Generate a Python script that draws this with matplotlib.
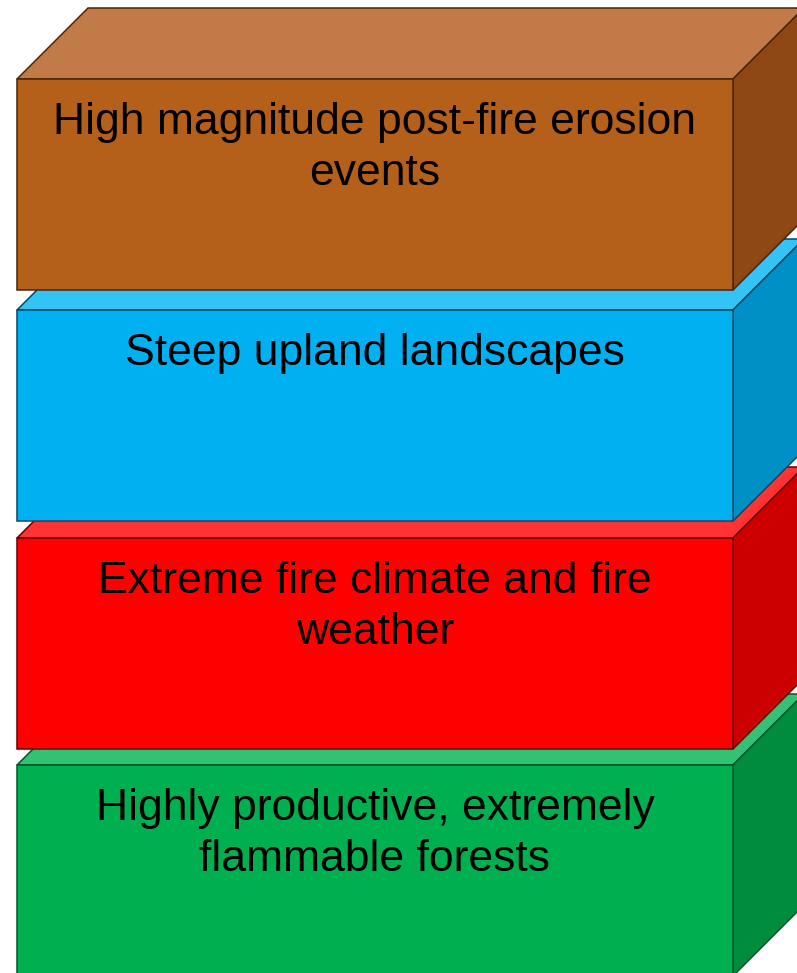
import matplotlib
matplotlib.use("Agg")
import matplotlib.pyplot as plt
from matplotlib.patches import Polygon
import numpy as np

# layers, bottom of the picture last
labels = ["High magnitude post-fire erosion\nevents",
          "Steep upland landscapes",
          "Extreme fire climate and fire\nweather",
          "Highly productive, extremely\nflammable forests"]
front_colors = ["#B45F1A", "#00B0F0", "#FF0000", "#00B050"]
top_colors = ["#C27B48", "#33C3F5", "#FF3333", "#33C173"]
side_colors = ["#8E4815", "#0090C5", "#CC0000", "#008C3E"]
edge_colors = ["#4A2508", "#004A66", "#660000", "#00552A"]

# layout in pixels
W, H = 797, 973
left, right = 17, 733
tops = [79, 310, 538, 765]
box_h = 211
depth = 71

fig = plt.figure(figsize=(W / 100, H / 100), dpi=100)
ax = fig.add_axes([0, 0, 1, 1])
ax.set_xlim(0, W)
ax.set_ylim(H, 0)
ax.axis("off")

# draw from the bottom box up so upper boxes hide the top faces below
for i in reversed(range(len(labels))):
    t = tops[i]
    b = t + box_h
    ec = edge_colors[i]
    top_face = [(left, t), (right, t), (right + depth, t - depth), (left + depth, t - depth)]
    side_face = [(right, t), (right + depth, t - depth), (right + depth, b - depth), (right, b)]
    front_face = [(left, t), (right, t), (right, b), (left, b)]
    ax.add_patch(Polygon(top_face, closed=True, fc=top_colors[i], ec=ec, lw=1.1, joinstyle="miter"))
    ax.add_patch(Polygon(side_face, closed=True, fc=side_colors[i], ec=ec, lw=1.1, joinstyle="miter"))
    ax.add_patch(Polygon(front_face, closed=True, fc=front_colors[i], ec=ec, lw=1.1, joinstyle="miter"))
    ax.text((left + right) / 2, t + 23, labels[i], ha="center", va="top",
            fontsize=32, family="Liberation Sans", color="black", linespacing=1.32,
            multialignment="center")

fig.savefig("out.png", dpi=100)
